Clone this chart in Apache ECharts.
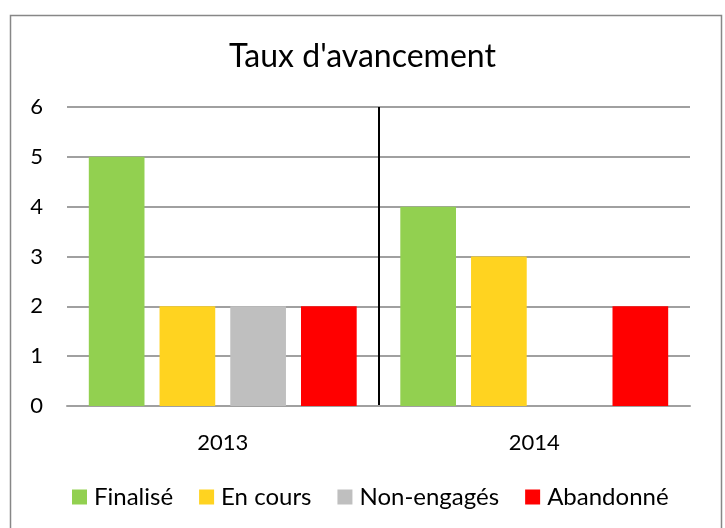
<!DOCTYPE html>
<html><head><meta charset="utf-8">
<script src="https://cdn.jsdelivr.net/npm/echarts@6/dist/echarts.min.js"></script>
<style>html,body{margin:0;padding:0;background:#fff}#c{width:725px;height:528px}</style>
</head><body><div id="c"></div>
<script>
const categories = ['2013', '2014'];
const seriesNames = ['Finalisé', 'En cours', 'Non-engagés', 'Abandonné'];
const finalise = [5, 4];
const enCours = [2, 3];
const nonEngages = [2, 0];
const abandonne = [2, 2];
const yTicks = [0, 1, 2, 3, 4, 5, 6];
const colors = ['#92D050', '#FFD320', '#BFBFBF', '#FF0000'];
const values = [finalise, enCours, nonEngages, abandonne];
const font = 'Lato, "Open Sans", sans-serif';

const chart = echarts.init(document.getElementById('c'), null, {renderer: 'canvas'});
chart.setOption({
  animation: false,
  backgroundColor: '#fff',
  graphic: [{type: 'rect', left: 8, top: 13, shape: {width: 711, height: 530}, style: {fill: 'none', stroke: '#878787', lineWidth: 1.5}, silent: true}],
  title: {text: "Taux d'avancement", left: 'center', top: 36, textStyle: {fontFamily: font, fontSize: 32, fontWeight: 'normal', color: '#000'}},
  legend: {data: seriesNames, bottom: 14, left: 67, icon: 'rect', itemWidth: 15, itemHeight: 15, itemGap: 26,
    textStyle: {fontFamily: font, fontSize: 24, color: '#000', padding: [0, 0, 0, 2]}},
  grid: {left: 67, right: 35, top: 107, bottom: 122},
  xAxis: {type: 'category', data: categories,
    axisLine: {show: true, lineStyle: {color: '#A0A0A0', width: 2}},
    axisTick: {show: false},
    axisLabel: {fontFamily: font, fontSize: 22, color: '#000', margin: 26},
    splitLine: {show: true, showMinLine: false, showMaxLine: false, lineStyle: {color: '#000', width: 2}}},
  yAxis: {type: 'value', min: yTicks[0], max: yTicks[yTicks.length - 1], interval: 1,
    axisLine: {show: false}, axisTick: {show: false},
    axisLabel: {fontFamily: font, fontSize: 22, color: '#000', margin: 24},
    splitLine: {lineStyle: {color: '#A0A0A0', width: 2}}},
  series: seriesNames.map((n, i) => ({
    name: n, type: 'bar', data: values[i], barGap: '27%', barCategoryGap: '14%',
    itemStyle: {color: colors[i]}, z: 3
  }))
});
</script></body></html>
